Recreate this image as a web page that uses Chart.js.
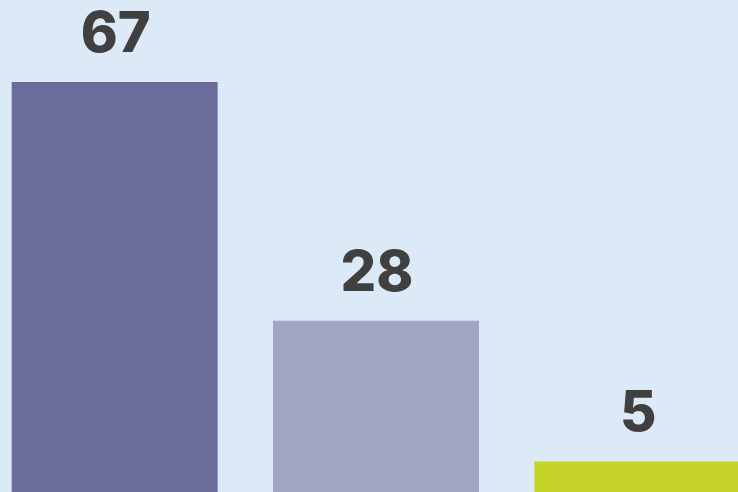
<!DOCTYPE html>
<html>
<head>
<meta charset="utf-8">
<script src="https://cdn.jsdelivr.net/npm/chart.js@4"></script>
<style>
  html, body { margin: 0; padding: 0; background: #dce9f7; overflow: hidden; }
  body { width: 738px; height: 492px; position: relative; }
  #wrap { position: absolute; left: -16px; top: 0; width: 784px; height: 492px; }
</style>
</head>
<body>
<div id="wrap"><canvas id="chart"></canvas></div>
<script>
  const categories = ["A", "B", "C"];
  const values = [67, 28, 5];
  const barColors = ["#6b6c9a", "#a3a5c4", "#c5d227"];

  // draws the big value labels above each bar
  const valueLabels = {
    id: "valueLabels",
    afterDatasetsDraw(chart) {
      const ctx = chart.ctx;
      const meta = chart.getDatasetMeta(0);
      ctx.save();
      ctx.fillStyle = "#404040";
      ctx.font = "800 56px Inter, Roboto, sans-serif";
      ctx.textAlign = "center";
      ctx.textBaseline = "alphabetic";
      meta.data.forEach((bar, i) => {
        ctx.fillText(String(values[i]), bar.x + 1, bar.y - 30);
      });
      ctx.restore();
    }
  };

  new Chart(document.getElementById("chart"), {
    type: "bar",
    data: {
      labels: categories,
      datasets: [{
        data: values,
        backgroundColor: barColors,
        borderWidth: 0,
        barPercentage: 0.788,
        categoryPercentage: 1
      }]
    },
    options: {
      responsive: true,
      maintainAspectRatio: false,
      animation: false,
      layout: { padding: 0 },
      plugins: { legend: { display: false }, tooltip: { enabled: false } },
      scales: {
        x: { display: false },
        y: { display: false, min: 0, max: 80.4 }
      }
    },
    plugins: [valueLabels]
  });
</script>
</body>
</html>
